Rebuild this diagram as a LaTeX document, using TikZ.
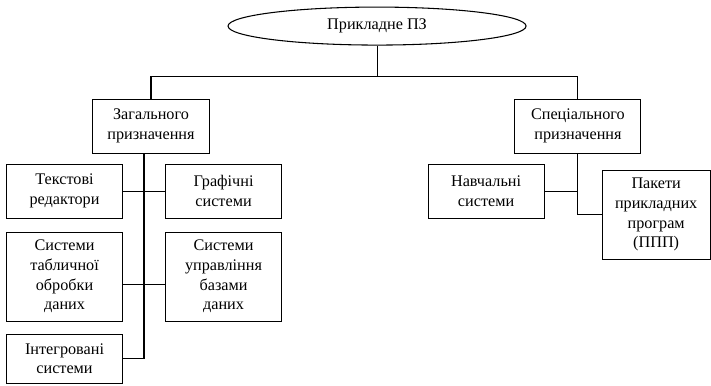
\documentclass[tikz,border=0pt]{standalone}
\usepackage{fontspec}
\setmainfont{Liberation Serif}
\usepackage{tikz}
\usetikzlibrary{shapes,arrows}

\tikzset{
  box/.style = {draw, thick, rectangle, align=center, inner sep=0pt,
                minimum width=3.09cm, minimum height=1.43cm,
                font=\fontsize{12.2pt}{14.8pt}\selectfont},
  tall/.style = {minimum height=2.355cm},
  oval/.style = {draw, thick, ellipse, inner sep=0pt,
                 minimum width=7.885cm, minimum height=1.005cm,
                 font=\fontsize{12.2pt}{14.8pt}\selectfont}
}

\begin{document}
\begin{tikzpicture}[scale = 1]

\useasboundingbox (0,0) rectangle (18.81,10.19);

% root
\node[oval] (root) at (9.975,9.50) {Прикладне ПЗ};

% second level
\node[box] (gen) at (3.995,6.853) {Загального\\призначення};
\node[box, minimum width=3.334cm] (spec) at (15.29,6.853) {Спеціального\\призначення};

% general purpose
\node[box] (text) at (1.707,5.133) {Текстові\\редактори};
\node[box] (graph) at (5.914,5.133) {Графічні\\системи};
\node[box, tall] (table) at (1.707,2.871) {Системи\\табличної\\обробки\\даних};
\node[box, tall] (db) at (5.914,2.871) {Системи\\управління\\базами\\даних};
\node[box, minimum height=1.297cm] (integr) at (1.707,0.701) {Інтегровані\\системи};

% special purpose
\node[box, minimum width=3.07cm] (learn) at (12.86,5.133) {Навчальні\\системи};
\node[box, tall, minimum width=2.858cm] (ppp) at (17.36,4.511) {Пакети\\прикладних\\програм\\(ППП)};

% bus and trunks
\coordinate (bus) at (9.975,8.176);
\coordinate (trunkL) at (3.81,0);
\coordinate (rowT) at (0,2.672);

\draw [thick] (root.south) -- (bus);
\draw [thick] (gen.north) |- (bus) -| (spec.north);

\draw [thick] (gen.south -| trunkL) |- (integr.east);
\draw [thick] (text.east) -- (graph.west);
\draw [thick] (table.east |- rowT) -- (db.west |- rowT);

\draw [thick] (spec.south) |- (ppp.west);
\draw [thick] (learn.east) -- (learn.east -| spec.south);

\end{tikzpicture}
\end{document}
